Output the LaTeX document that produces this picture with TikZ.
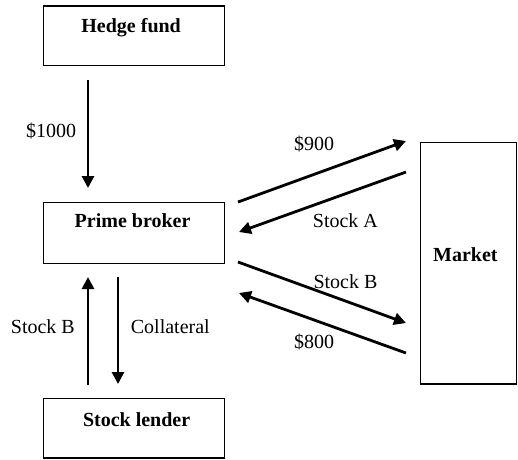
\documentclass[tikz,border=0pt]{standalone}
\usepackage{fontspec}
\setmainfont{Liberation Serif}
\usetikzlibrary{arrows.meta}
\begin{document}
\begin{tikzpicture}[x=1pt,y=-1pt,
  box/.style={draw=black, line width=1.2pt, minimum width=181pt, inner sep=0pt},
  title/.style={font=\fontsize{20}{24}\selectfont\bfseries, inner sep=0pt, anchor=base west},
  lbl/.style={font=\fontsize{20}{24}\selectfont, inner sep=0pt, anchor=base west},
  flow/.style={line width=2.8pt, -{Triangle[length=12pt,width=12pt]}}]
\useasboundingbox (0,0) rectangle (518,459);
% boxes
\node[box, minimum height=59.7pt] (hf) at (133.8,35.9) {};
\node[box, minimum height=61pt] (pb) at (133.8,232.8) {};
\node[box, minimum height=59.7pt] (sl) at (133.8,428.2) {};
\node[box, minimum width=96pt, minimum height=241.3pt] (mk) at (468.7,263.3) {};
% box titles
\node[title] (thf) at (81.2,32.3) {Hedge fund};
\node[title] (tpb) at (74.5,227.7) {Prime broker};
\node[title] (tsl) at (82.8,426) {Stock lender};
\node[title] (tmk) at (433,261.7) {Market};
% arrow end points
\coordinate (a1s) at (88,80);   \coordinate (a1e) at (88,188);
\coordinate (a2s) at (88,385);  \coordinate (a2e) at (88,277);
\coordinate (a3s) at (118,277); \coordinate (a3e) at (118,384);
\coordinate (a4s) at (238,202); \coordinate (a4e) at (406,141);
\coordinate (a5s) at (406,172); \coordinate (a5e) at (239,232);
\coordinate (a6s) at (238,262); \coordinate (a6e) at (406,323);
\coordinate (a7s) at (406,353); \coordinate (a7e) at (239,293);
% arrows
\draw[flow] (a1s) -- (a1e);
\draw[flow] (a2s) -- (a2e);
\draw[flow] (a3s) -- (a3e);
\draw[flow] (a4s) -- (a4e);
\draw[flow] (a5s) -- (a5e);
\draw[flow] (a6s) -- (a6e);
\draw[flow] (a7s) -- (a7e);
% labels
\node[lbl] (l1) at (26,137) {\$1000};
\node[lbl] (l2) at (10.7,333.3) {Stock B};
\node[lbl] (l3) at (130.7,333.3) {Collateral};
\node[lbl] (l4) at (294,150.7) {\$900};
\node[lbl] (l5) at (312.7,227.3) {Stock A};
\node[lbl] (l6) at (313.3,288.3) {Stock B};
\node[lbl] (l7) at (294,348.3) {\$800};
\end{tikzpicture}
\end{document}
